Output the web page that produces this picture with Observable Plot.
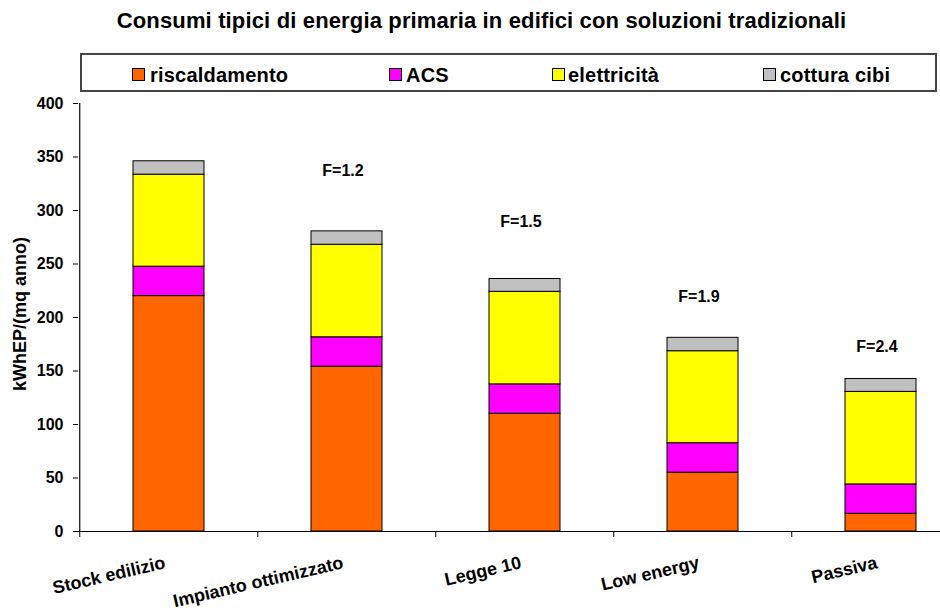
<!DOCTYPE html>
<html>
<head>
<meta charset="utf-8">
<script src="https://cdn.jsdelivr.net/npm/d3@7"></script>
<script src="https://cdn.jsdelivr.net/npm/@observablehq/plot@0.6"></script>
<style>
html, body { margin: 0; padding: 0; background: #fff; overflow: hidden; }
#wrap { position: relative; width: 940px; height: 616px; overflow: hidden;
  font-family: "Liberation Sans", Arial, sans-serif; font-weight: bold; color: #000; }
#title { position: absolute; left: 0; width: 963px; top: 9px; line-height: 24px;
  font-size: 22px; letter-spacing: 0.15px; text-align: center; white-space: nowrap; }
#legend { position: absolute; left: 80px; top: 53px; width: 857px; height: 39px;
  box-sizing: border-box; border: 2px solid #444; background: #fff; }
.sw { position: absolute; width: 13px; height: 13px; box-sizing: border-box; border: 1px solid #000; }
.lt { position: absolute; font-size: 20px; line-height: 22px; letter-spacing: 0.2px; white-space: nowrap; }
#ylab { position: absolute; font-size: 18px; line-height: 22px; white-space: nowrap;
  transform: translate(-50%, -50%) rotate(-90deg); }
#chart { position: absolute; left: 0; top: 0; }
</style>
</head>
<body>
<div id="wrap">
  <div id="chart"></div>
  <div id="title"></div>
  <div id="legend"></div>
  <div id="ylab"></div>
</div>
<script>
// ---- data ----
const titleText = "Consumi tipici di energia primaria in edifici con soluzioni tradizionali";
const yLabel = "kWhEP/(mq anno)";
const categories = ["Stock edilizio", "Impianto ottimizzato", "Legge 10", "Low energy", "Passiva"];
const seriesNames = ["riscaldamento", "ACS", "elettricità", "cottura cibi"];
const seriesColors = ["#FF6600", "#FF00FF", "#FFFF00", "#C0C0C0"];
const riscaldamento = [220, 154, 110, 55, 16.5];
const acs = [27.5, 27.5, 27.5, 27.5, 27.5];
const elettricita = [86, 86.5, 86.5, 86, 86.5];
const cotturaCibi = [12.5, 12.5, 12, 12.5, 12];
const yTicks = [0, 50, 100, 150, 200, 250, 300, 350, 400];
const fCategories = ["Impianto ottimizzato", "Legge 10", "Low energy", "Passiva"];
const fLabels = ["F=1.2", "F=1.5", "F=1.9", "F=2.4"];
const fY = [337, 289, 219, 173];

// ---- table ----
const seriesValues = [riscaldamento, acs, elettricita, cotturaCibi];
const rows = [];
categories.forEach((c, i) => {
  seriesNames.forEach((s, j) => rows.push({cat: c, series: s, value: seriesValues[j][i]}));
});
const fRows = fCategories.map((c, i) => ({cat: c, y: fY[i], label: fLabels[i]}));

// ---- layout ----
const W = 940, H = 616;
const xRange = [78, 970.5];
const step = (xRange[1] - xRange[0]) / categories.length;

const chart = Plot.plot({
  width: W, height: H,
  marginTop: 103, marginBottom: 85, marginLeft: 78, marginRight: 0,
  style: {background: "transparent", fontFamily: "Liberation Sans, Arial, sans-serif", fontWeight: "bold", color: "#000", overflow: "visible"},
  x: {domain: categories, range: xRange, paddingInner: 0.6, paddingOuter: 0.3, axis: null},
  y: {domain: [0, 400]},
  color: {domain: seriesNames, range: seriesColors},
  marks: [
    Plot.barY(rows, {x: "cat", y: "value", fill: "series", stroke: "#000", strokeWidth: 1}),
    Plot.axisY(yTicks, {anchor: "left", tickSize: 5, tickPadding: 10, fontSize: 16, fontWeight: "bold", label: null}),
    Plot.ruleY([0], {stroke: "#000", strokeWidth: 1.2}),
    Plot.ruleX([categories[0]], {y1: 0, y2: 400, dx: -step / 2, stroke: "#000", strokeWidth: 1.2}),
    Plot.ruleX(categories, {y1: 0, y2: 0, insetTop: 6, dx: -step / 2, stroke: "#000", strokeWidth: 1}),
    Plot.text(categories, {x: d => d, text: d => d, frameAnchor: "bottom", rotate: -13, textAnchor: "end",
      lineAnchor: "middle", dx: -4, dy: 31, fontSize: 18, fontWeight: "bold", fill: "#000"}),
    Plot.text(fRows, {x: "cat", y: "y", text: "label", dx: -4, fontSize: 16, fontWeight: "bold", fill: "#000"})
  ]
});
document.getElementById("chart").appendChild(chart);

// ---- title ----
document.getElementById("title").textContent = titleText;

// ---- legend ----
const legend = document.getElementById("legend");
const swX = [132, 389, 552, 763];
const txX = [150, 406, 568, 780];
seriesNames.forEach((s, i) => {
  const sw = document.createElement("div");
  sw.className = "sw";
  sw.style.left = (swX[i] - 82) + "px";
  sw.style.top = (68 - 55) + "px";
  sw.style.background = seriesColors[i];
  legend.appendChild(sw);
  const t = document.createElement("div");
  t.className = "lt";
  t.style.left = (txX[i] - 82) + "px";
  t.style.top = (64 - 55) + "px";
  t.textContent = s;
  legend.appendChild(t);
});

// ---- y label ----
const yl = document.getElementById("ylab");
yl.textContent = yLabel;
yl.style.left = "20px";
yl.style.top = "314px";
</script>
</body>
</html>
